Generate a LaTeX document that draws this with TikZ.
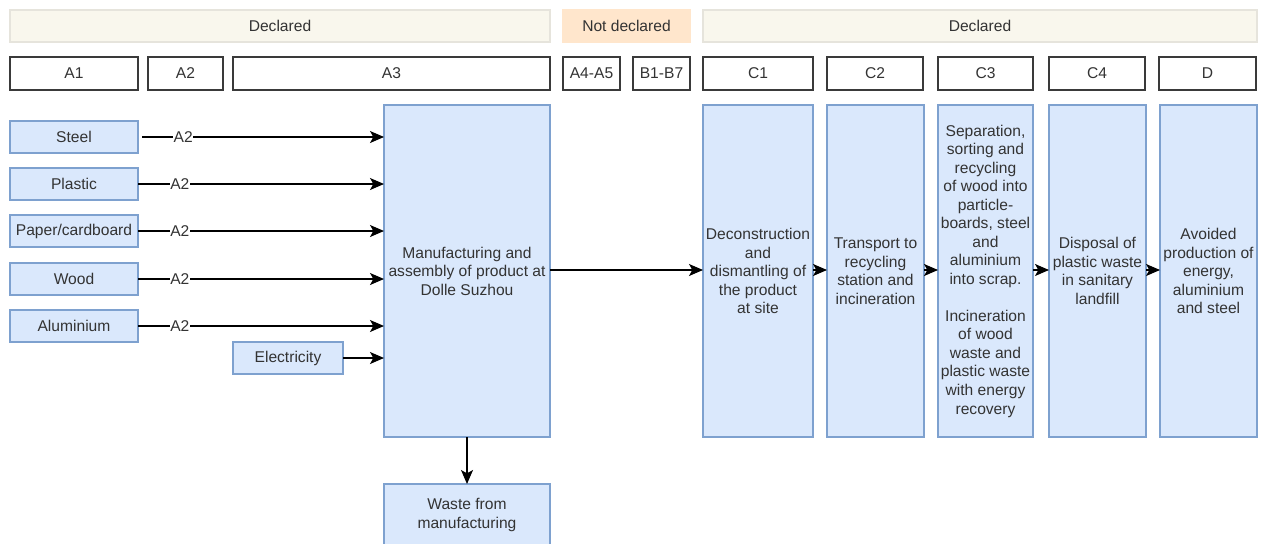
\documentclass[tikz,border=0pt]{standalone}
\usepackage{fontspec}
\setmainfont{Liberation Sans}
\usetikzlibrary{arrows.meta}
\definecolor{txt}{HTML}{333333}
\definecolor{bluefill}{HTML}{DAE8FC}
\definecolor{blueline}{HTML}{7EA1CF}
\definecolor{beige}{HTML}{F9F7ED}
\definecolor{beigeline}{HTML}{E6E4DC}
\definecolor{orangefill}{HTML}{FFE6CC}
\definecolor{hdrline}{HTML}{3A3A3A}
\tikzset{
  base/.style={inner sep=0pt, outer sep=0pt, text=txt, align=center,
    font=\fontsize{11.7}{13.9}\selectfont},
  sz/.style 2 args={minimum width=#1*0.75pt, minimum height=#2*0.75pt},
  band/.style={base, fill=beige, draw=beigeline, line width=0.9pt},
  nodecl/.style={base, fill=orangefill, draw=orangefill, line width=0.9pt},
  hdr/.style={base, fill=white, draw=hdrline, line width=1.1pt},
  proc/.style={base, fill=bluefill, draw=blueline, line width=0.9pt},
  flow/.style={draw=black, line width=0.9pt, -{Stealth[length=10.5pt,width=9pt,inset=2.5pt]}},
  lbl/.style={fill=white, inner sep=0.5pt, text=txt, font=\fontsize{11.7}{13.9}\selectfont}
}
\begin{document}
\begin{tikzpicture}[x=0.75pt,y=-0.75pt]
\useasboundingbox (0,0) rectangle (1263,543);
% bands
\node[band, sz={540}{32}] (b1) at (280,26) {Declared};
\node[nodecl, sz={127}{32}] (b2) at (626.5,26) {Not declared};
\node[band, sz={554}{32}] (b3) at (980,26) {Declared};
% headers
\node[hdr, sz={128}{33}] (hA1) at (74,73.5) {A1};
\node[hdr, sz={75}{33}] (hA2) at (185.5,73.5) {A2};
\node[hdr, sz={317}{33}] (hA3) at (391.5,73.5) {A3};
\node[hdr, sz={57}{33}] (hA45) at (591.5,73.5) {A4-A5};
\node[hdr, sz={57}{33}] (hB) at (661.5,73.5) {B1-B7};
\node[hdr, sz={110}{33}] (hC1) at (758,73.5) {C1};
\node[hdr, sz={96}{33}] (hC2) at (875,73.5) {C2};
\node[hdr, sz={95}{33}] (hC3) at (985.5,73.5) {C3};
\node[hdr, sz={96}{33}] (hC4) at (1097,73.5) {C4};
\node[hdr, sz={97}{33}] (hD) at (1207.5,73.5) {D};
% materials
\node[proc, sz={128}{32}] (steel) at (74,137) {Steel};
\node[proc, sz={128}{32}] (plastic) at (74,184) {Plastic};
\node[proc, sz={128}{32}] (paper) at (74,231) {Paper/cardboard};
\node[proc, sz={128}{32}] (wood) at (74,279) {Wood};
\node[proc, sz={128}{32}] (alu) at (74,326) {Aluminium};
\node[proc, sz={110}{32}] (elec) at (288,358) {Electricity};
% manufacturing
\node[proc, sz={166}{332}] (manu) at (467,271) {Manufacturing and\\assembly of product at\\Dolle Suzhou};
\node[proc, sz={166}{76}] (waste) at (467,522) {};
\node[base] (wastetxt) at (467,515) {Waste from\\manufacturing};
% C and D
\node[proc, sz={110}{332}] (c1) at (758,271) {Deconstruction\\and\\dismantling of\\the product\\at site};
\node[proc, sz={97}{332}] (c2) at (875.5,271) {Transport to\\recycling\\station and\\incineration};
\node[proc, sz={95}{332}] (c3) at (985.5,271) {Separation,\\sorting and\\recycling\\of wood into\\particle-\\boards, steel\\and\\aluminium\\into scrap.\\[\baselineskip]Incineration\\of wood\\waste and\\plastic waste\\with energy\\recovery};
\node[proc, sz={97}{332}] (c4) at (1097.5,271) {Disposal of\\plastic waste\\in sanitary\\landfill};
\node[proc, sz={97}{332}] (d) at (1208.5,271) {Avoided\\production of\\energy,\\aluminium\\and steel};
% arrow end points on manufacturing
\coordinate (e1) at (384,137);
\coordinate (e2) at (384,184);
\coordinate (e3) at (384,231);
\coordinate (e4) at (384,279);
\coordinate (e5) at (384,326);
\coordinate (e6) at (384,358);
\coordinate (s1) at (142,137);
% arrows
\draw[flow] (s1) -- node[lbl, pos=0.17] {A2} (e1);
\draw[flow] (plastic.east) -- node[lbl, pos=0.17] {A2} (e2);
\draw[flow] (paper.east) -- node[lbl, pos=0.17] {A2} (e3);
\draw[flow] (wood.east) -- node[lbl, pos=0.17] {A2} (e4);
\draw[flow] (alu.east) -- node[lbl, pos=0.17] {A2} (e5);
\draw[flow] (elec.east) -- (e6);
\draw[flow] (manu.south) -- (waste.north);
\draw[flow] (manu.east |- 0,270) -- (c1.west |- 0,270);
\draw[flow] (c1.east |- 0,270) -- (c2.west |- 0,270);
\draw[flow] (c2.east |- 0,270) -- (c3.west |- 0,270);
\draw[flow] (c3.east |- 0,270) -- (c4.west |- 0,270);
\draw[flow] (c4.east |- 0,270) -- (d.west |- 0,270);
\end{tikzpicture}
\end{document}
